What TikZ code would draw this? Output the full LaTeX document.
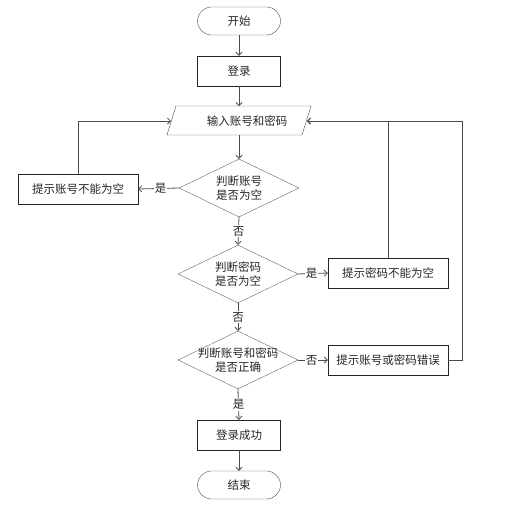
\documentclass[tikz,border=0pt]{standalone}
\usepackage{fontspec}
\setmainfont{Noto Sans CJK SC}
\usetikzlibrary{arrows.meta,shapes.geometric}
\begin{document}
\begin{tikzpicture}[x=1pt,y=-1pt,
  txt/.style={font=\fontsize{11.5}{14}\selectfont, text=black!85, align=center, inner sep=0},
  term/.style={draw=black!70, rounded corners=14pt, minimum width=83pt, minimum height=28pt, inner sep=0, txt},
  box/.style={draw=black!85, minimum width=83pt, minimum height=30pt, inner sep=0, txt},
  msg/.style={draw=black!85, minimum width=120pt, minimum height=30pt, inner sep=0, txt},
  dia/.style={draw=black!60, diamond, minimum width=120pt, minimum height=58pt, inner sep=0},
  conn/.style={draw=black!70, line width=0.8pt, -{Straight Barb[length=3pt,width=6pt]}},
  lab/.style={txt, fill=white, inner sep=1pt}
]
\useasboundingbox (0,0) rectangle (506,504);
\node[term] (start) at (239,21) {开始};
\node[box] (login) at (239,71) {登录};
% parallelogram
\draw[black!70] (176,106) -- (311,106) -- (302,135) -- (167,135) -- cycle;
\node[txt] (inp) at (247,121) {输入账号和密码};
\coordinate (ptop) at (239,106);
\coordinate (pbot) at (239,135);
\coordinate (pl) at (171,121);
\coordinate (pr) at (307,121);
\node[dia] (d1) at (239,188) {};
\node[txt] at (d1) {判断账号\\是否为空};
\node[msg] (m1) at (78,189) {提示账号不能为空};
\node[dia] (d2) at (238,274) {};
\node[txt] at (d2) {判断密码\\是否为空};
\node[msg] (m2) at (388,273) {提示密码不能为空};
\node[dia] (d3) at (238,360) {};
\node[txt] at (d3) {判断账号和密码\\是否正确};
\node[msg] (m3) at (388,360) {提示账号或密码错误};
\node[box] (ok) at (239,435) {登录成功};
\node[term] (end) at (239,485) {结束};

\draw[conn] (start) -- (login);
\draw[conn] (login) -- (ptop);
\draw[conn] (pbot) -- (d1.north);
\draw[conn] (d1.west) -- node[lab, pos=0.45] {是} (m1.east);
\draw[conn] (m1.north) |- (pl);
\draw[conn] (d1.south) -- node[lab] {否} (d2.north);
\draw[conn] (d2.east) -- node[lab, pos=0.45] {是} (m2.west);
\draw[conn] (m2.north) |- (pr);
\draw[conn] (d2.south) -- node[lab] {否} (d3.north);
\draw[conn] (d3.east) -- node[lab, pos=0.45] {否} (m3.west);
\draw[conn] (m3.east) -- ++(14,0) |- (pr);
\draw[conn] (d3.south) -- node[lab, pos=0.5] {是} (ok.north);
\draw[conn] (ok) -- (end);
\end{tikzpicture}
\end{document}
